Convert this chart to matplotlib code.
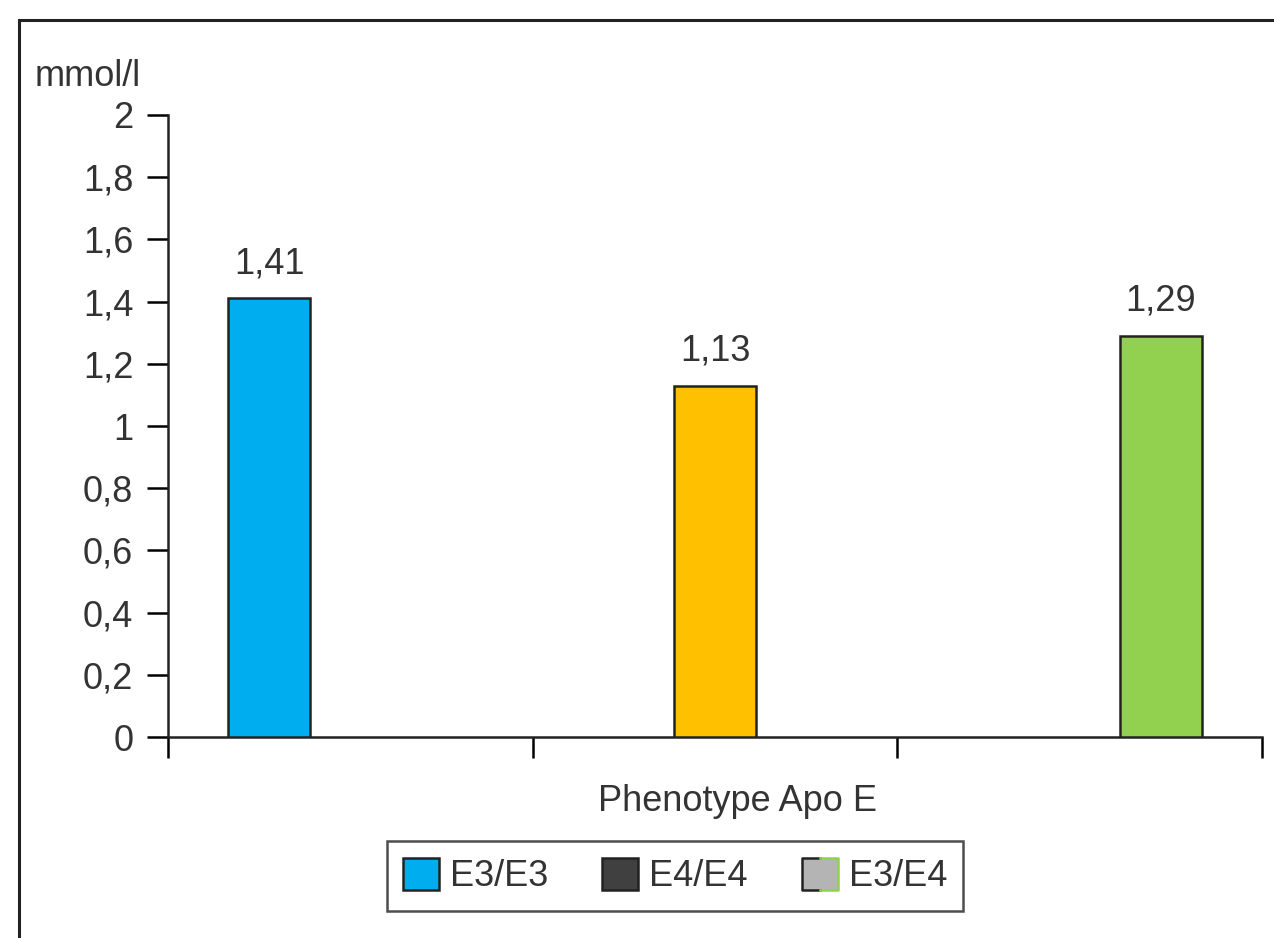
import matplotlib.pyplot as plt
from matplotlib.patches import Rectangle, Patch
from matplotlib.lines import Line2D
from matplotlib.legend_handler import HandlerBase
from matplotlib.ticker import FuncFormatter

# data
series = ['E3/E3', 'E4/E4', 'E3/E4']
values = [1.41, 1.13, 1.29]
bar_colors = ['#00AEEF', '#FFC000', '#92D050']
legend_colors = ['#00AEEF', '#404040', '#B4B4B4']
yticks = [0, 0.2, 0.4, 0.6, 0.8, 1.0, 1.2, 1.4, 1.6, 1.8, 2.0]

plt.rcParams['font.family'] = ['Liberation Sans', 'DejaVu Sans']
txt = '#333333'
fs = 26


class SplitEdge(HandlerBase):
    # grey square, left half edged black, right half edged green
    def create_artists(self, legend, orig, xd, yd, w, h, fontsize, trans):
        x0, y0 = -xd, -yd
        r = Rectangle((x0, y0), w, h, facecolor=orig.get_facecolor(),
                      edgecolor='none', transform=trans)
        m = x0 + w / 2
        l1 = Line2D([m, x0, x0, m], [y0 + h, y0 + h, y0, y0], color='#222222',
                    linewidth=1.8, transform=trans)
        l2 = Line2D([m, x0 + w, x0 + w, m], [y0 + h, y0 + h, y0, y0], color='#92D050',
                    linewidth=1.8, transform=trans)
        return [r, l1, l2]


fig = plt.figure(figsize=(12.74, 9.38), dpi=100)
# outer frame
fig.patches.append(Rectangle((19 / 1274, -0.05), 1.1, 1 - 20 / 938 + 0.05,
                             transform=fig.transFigure, fill=False,
                             edgecolor='#222222', linewidth=2.2))

ax = fig.add_axes([168 / 1274, 1 - 737 / 938, (1262 - 168) / 1274, (737 - 115) / 938])

pos = [0.277, 1.5, 2.723]
bars = ax.bar(pos, values, width=0.225, color=bar_colors,
              edgecolor='#222222', linewidth=1.8, zorder=3)
for x, v in zip(pos, values):
    ax.text(x, v + 0.055, f'{v:.2f}'.replace('.', ','), ha='center', va='bottom',
            fontsize=fs, color=txt)

ax.set_xlim(0, 3)
ax.set_ylim(0, 2)
ax.set_xticks([0, 1, 2, 3])
ax.set_xticklabels([])
ax.set_yticks(yticks)
ax.yaxis.set_major_formatter(FuncFormatter(lambda v, p: f'{v:g}'.replace('.', ',')))
ax.tick_params(axis='y', direction='out', length=15, width=1.8, labelsize=fs,
               labelcolor=txt, pad=10)
ax.tick_params(axis='x', direction='out', length=15, width=1.8)
for s in ['top', 'right']:
    ax.spines[s].set_visible(False)
for s in ['left', 'bottom']:
    ax.spines[s].set_linewidth(1.8)
    ax.spines[s].set_color('#222222')

fig.text(35 / 1274, 1 - 77 / 938, 'mmol/l', fontsize=fs, color=txt, va='center')
fig.text(737 / 1274, 1 - 801 / 938, 'Phenotype Apo E', fontsize=fs, color=txt,
         ha='center', va='center')

handles = [Patch(facecolor=c, edgecolor='#222222', linewidth=1.8) for c in legend_colors]
leg = fig.legend(handles, series, loc='center', bbox_to_anchor=(675 / 1274, 1 - 876 / 938),
                 ncol=3, fontsize=fs, frameon=True, fancybox=False, edgecolor='#222222',
                 handlelength=1.0, handleheight=1.0, handletextpad=0.3, columnspacing=1.5,
                 borderpad=0.45, handler_map={handles[2]: SplitEdge()})
leg.get_frame().set_linewidth(1.8)
for t in leg.get_texts():
    t.set_color(txt)

fig.savefig('out.png', dpi=100)
